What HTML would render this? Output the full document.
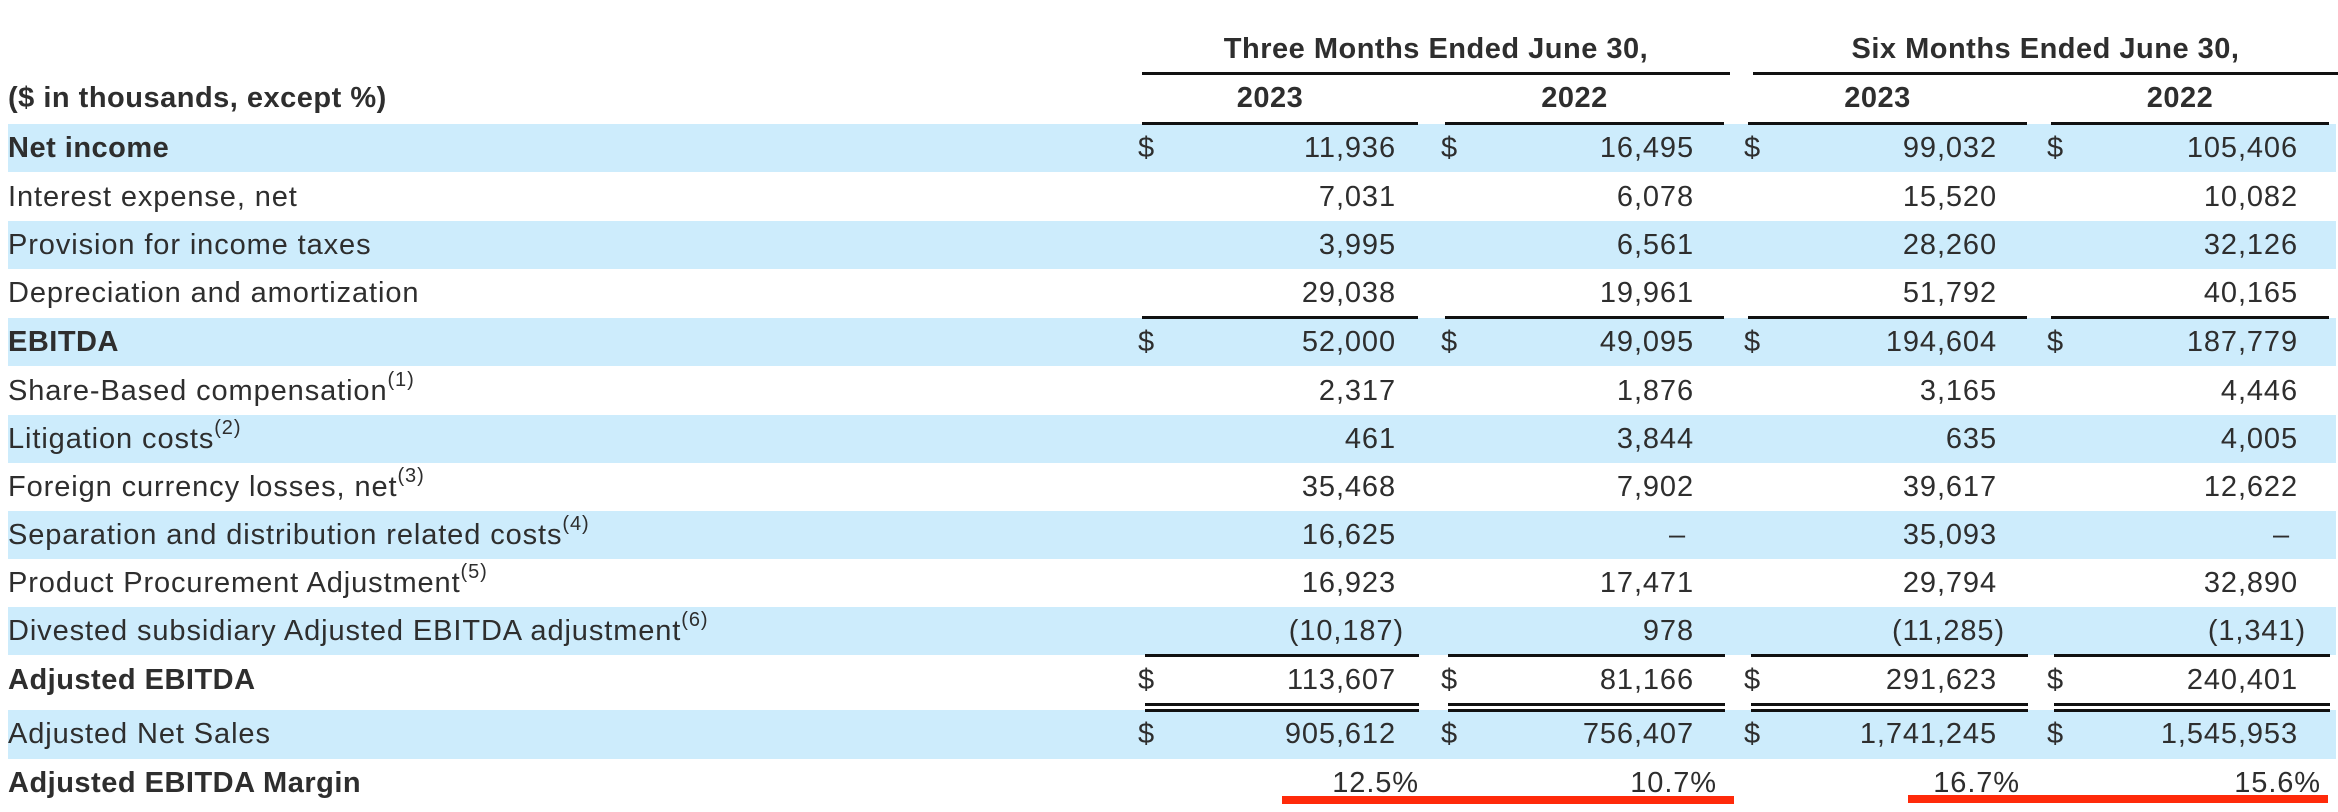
<!DOCTYPE html>
<html><head><meta charset="utf-8"><style>
body{margin:0;width:2338px;height:812px;background:#fff;position:relative;overflow:hidden;font-family:"Liberation Sans",Arial,sans-serif;color:#2e2e2e}
.a{position:absolute;white-space:nowrap}
.band{position:absolute;left:8px;width:2328px;background:#cdecfc}
.t{font-size:29px;line-height:48px;letter-spacing:0.9px}
.b{font-weight:bold;letter-spacing:0.5px}
.r{text-align:right}
sup{font-size:20px;line-height:0;position:relative;top:-3px}
.ln{position:absolute;height:3px;background:#111}
.red{position:absolute;height:8px;background:#ff2a0a}
</style></head><body>
<div class="a t b" style="left:1142px;width:588px;top:25px;text-align:center">Three Months Ended June 30,</div>
<div class="a t b" style="left:1753px;width:585px;top:25px;text-align:center">Six Months Ended June 30,</div>
<div class="ln" style="left:1142px;width:588px;top:72px"></div>
<div class="ln" style="left:1753px;width:585px;top:72px"></div>
<div class="a t b" style="left:8px;top:74px">($ in thousands, except %)</div>
<div id="root"></div>
<div class="red" style="left:1282px;width:452px;top:796px"></div>
<div class="red" style="left:1908px;width:420px;top:795px"></div>
<script>
const years=["2023","2022","2023","2022"];
const labels=["Net income","Interest expense, net","Provision for income taxes","Depreciation and amortization","EBITDA","Share-Based compensation","Litigation costs","Foreign currency losses, net","Separation and distribution related costs","Product Procurement Adjustment","Divested subsidiary Adjusted EBITDA adjustment","Adjusted EBITDA","Adjusted Net Sales","Adjusted EBITDA Margin"];
const notes=["","","","","","(1)","(2)","(3)","(4)","(5)","(6)","","",""];
const q2023=["11,936","7,031","3,995","29,038","52,000","2,317","461","35,468","16,625","16,923","(10,187)","113,607","905,612","12.5%"];
const q2022=["16,495","6,078","6,561","19,961","49,095","1,876","3,844","7,902","–","17,471","978","81,166","756,407","10.7%"];
const h2023=["99,032","15,520","28,260","51,792","194,604","3,165","635","39,617","35,093","29,794","(11,285)","291,623","1,741,245","16.7%"];
const h2022=["105,406","10,082","32,126","40,165","187,779","4,446","4,005","12,622","–","32,890","(1,341)","240,401","1,545,953","15.6%"];
const tops=[124,173,221,269,318,367,415,463,511,559,607,656,710,759];
const bold=[0,4,11,13];const dollar=[0,4,11,12];const banded=[0,2,4,6,8,10,12];
const colL=[1149,1452,1755,2058],colR=[1427,1733,2036,2338],numR=[1396,1694,1997,2298];
const root=document.getElementById('root');
years.forEach((y,c)=>{
 const d=document.createElement('div');d.className='a t b';
 
 
 d.style.cssText=`left:${colL[c]-8}px;width:${colR[c]-colL[c]-20}px;top:74px;text-align:center`;d.textContent=y;root.appendChild(d);
});
function rule(c,y){const l=document.createElement('div');l.className='ln';
 
 
 l.style.cssText=`left:${colL[c]-7}px;width:${colR[c]-colL[c]-2}px;top:${y}px`;root.appendChild(l);}
[122,316].forEach(y=>[0,1,2,3].forEach(c=>rule(c,y)));
[654,703,709].forEach(y=>[0,1,2,3].forEach(c=>{const l=document.createElement('div');l.className='ln';
 
 
 l.style.cssText=`left:${colL[c]-4}px;width:${colR[c]-colL[c]-4}px;top:${y}px`;root.appendChild(l);}));
const cols=[q2023,q2022,h2023,h2022];
labels.forEach((lab,i)=>{
 const top=tops[i];
 if(banded.includes(i)){const b=document.createElement('div');b.className='band';
  
  
  b.style.cssText=`top:${top}px;height:${i==12?49:48}px`;root.insertBefore(b,root.firstChild);}
 const L=document.createElement('div');L.className='a t'+(bold.includes(i)?' b':'');
 
 
 L.style.cssText=`left:8px;top:${top}px`;L.innerHTML=lab+(notes[i]?'<sup>'+notes[i]+'</sup>':'');root.appendChild(L);
 cols.forEach((arr,c)=>{
  if(dollar.includes(i)){const s=document.createElement('div');s.className='a t';
   
   
   s.style.cssText=`left:${colL[c]-11}px;top:${top}px`;s.textContent='$';root.appendChild(s);}
  const v=document.createElement('div');v.className='a t r';
  
  
  const paren=arr[i].endsWith(')'),pct=arr[i].endsWith('%');
  const right=numR[c]+(paren?8:0)+(pct?23:0)-(arr[i]=='–'?8:0);
  v.style.cssText=`right:${2338-right}px;top:${top}px`;v.textContent=arr[i];root.appendChild(v);
 });
});
</script>
</body></html>
